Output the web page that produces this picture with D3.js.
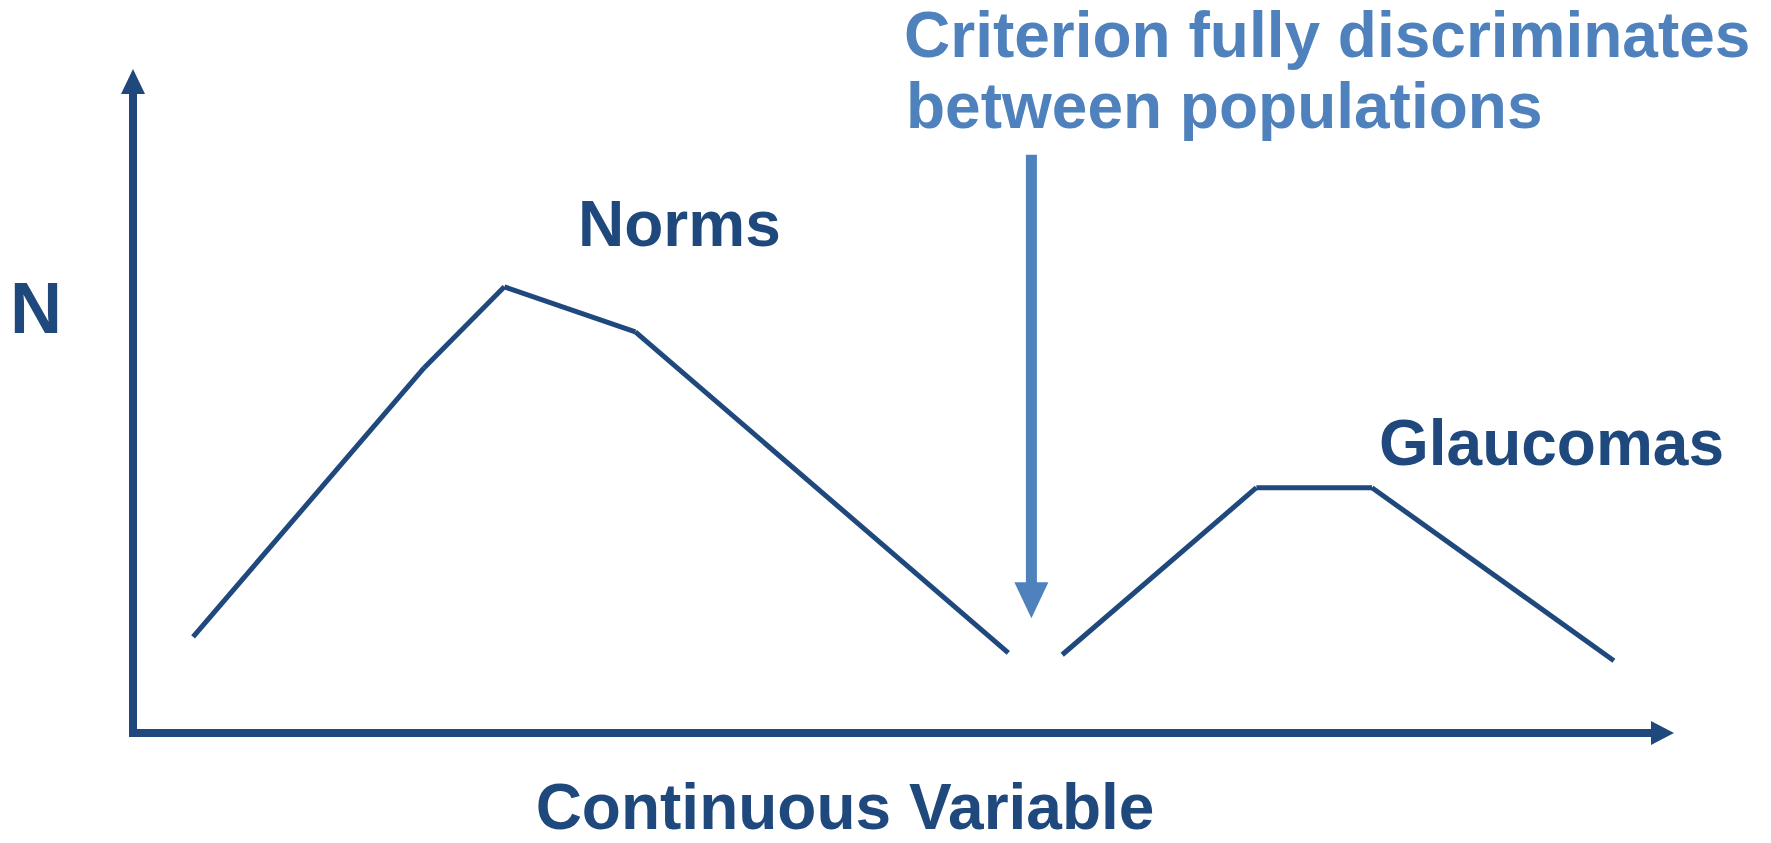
<!DOCTYPE html>
<html>
<head>
<meta charset="utf-8">
<script src="https://cdn.jsdelivr.net/npm/d3@7"></script>
<style>
  html, body { margin: 0; padding: 0; background: #ffffff; }
  svg { display: block; }
  text { font-family: "Liberation Sans", Arial, sans-serif; font-weight: bold; }
</style>
</head>
<body>
<svg id="chart" width="1771" height="843"></svg>
<script>
// Data (x, y in axis units 0..100)
const norms_x = [3.9, 18.9, 24.1, 32.6, 56.8];
const norms_y = [14.5, 55.1, 67.3, 60.5, 12.1];
const glaucomas_x = [60.3, 72.9, 80.4, 96.1];
const glaucomas_y = [11.8, 37.0, 37.0, 10.9];
const criterion_x = 58.3;
const criterion_y = [87.2, 17.3]; // from, to (arrow tip)
const labels = ['Norms', 'Glaucomas'];
const axis_labels = ['N', 'Continuous Variable'];
const criterion_text = ['Criterion fully discriminates', 'between populations'];

const dark = '#1F497D';
const light = '#4F81BD';

const svg = d3.select('#chart');

// Origin of the axes and their extent
const origin = { x: 133, y: 733 };
const xscale = d3.scaleLinear().domain([0, 100]).range([origin.x, 1674]);
const yscale = d3.scaleLinear().domain([0, 100]).range([origin.y, 70]);

// Y axis with arrow head
svg.append('line')
    .attr('x1', origin.x).attr('y1', origin.y + 4)
    .attr('x2', origin.x).attr('y2', yscale(100) + 24)
    .attr('stroke', dark).attr('stroke-width', 8);
svg.append('path')
    .attr('d', `M${origin.x - 12},${yscale(100) + 24} L${origin.x},${yscale(100) - 1} L${origin.x + 12},${yscale(100) + 24} Z`)
    .attr('fill', dark);

// X axis with arrow head
svg.append('line')
    .attr('x1', origin.x - 4).attr('y1', origin.y)
    .attr('x2', xscale(100) - 23).attr('y2', origin.y)
    .attr('stroke', dark).attr('stroke-width', 8);
svg.append('path')
    .attr('d', `M${xscale(100) - 23},${origin.y - 12} L${xscale(100)},${origin.y} L${xscale(100) - 23},${origin.y + 12} Z`)
    .attr('fill', dark);

// Draw a series as separate straight segments
const draw_segments = (xs, ys) => {
    for (let i = 0; i < xs.length - 1; i++) {
        svg.append('line')
            .attr('x1', xscale(xs[i])).attr('y1', yscale(ys[i]))
            .attr('x2', xscale(xs[i + 1])).attr('y2', yscale(ys[i + 1]))
            .attr('stroke', dark)
            .attr('stroke-width', 5)
            .attr('stroke-linecap', 'butt');
    }
};
draw_segments(norms_x, norms_y);
draw_segments(glaucomas_x, glaucomas_y);

// Criterion arrow
const cx = xscale(criterion_x);
const tip = yscale(criterion_y[1]);
svg.append('line')
    .attr('x1', cx).attr('y1', yscale(criterion_y[0]))
    .attr('x2', cx).attr('y2', tip - 35)
    .attr('stroke', light).attr('stroke-width', 11);
svg.append('path')
    .attr('d', `M${cx - 17},${tip - 36} L${cx},${tip} L${cx + 17},${tip - 36} Z`)
    .attr('fill', light);

// Labels
svg.append('text').text(labels[0])
    .attr('x', 578).attr('y', 246)
    .attr('font-size', 64).attr('fill', dark);
svg.append('text').text(labels[1])
    .attr('x', 1379).attr('y', 465)
    .attr('font-size', 64).attr('fill', dark);
svg.append('text').text(axis_labels[0])
    .attr('x', 10).attr('y', 333)
    .attr('font-size', 72).attr('fill', dark);
svg.append('text').text(axis_labels[1])
    .attr('x', 845).attr('y', 829)
    .attr('text-anchor', 'middle')
    .attr('font-size', 64).attr('fill', dark);

svg.append('text').text(criterion_text[0])
    .attr('x', 904).attr('y', 57)
    .attr('font-size', 64).attr('fill', light);
svg.append('text').text(criterion_text[1])
    .attr('x', 906).attr('y', 128)
    .attr('font-size', 64).attr('fill', light);
</script>
</body>
</html>
